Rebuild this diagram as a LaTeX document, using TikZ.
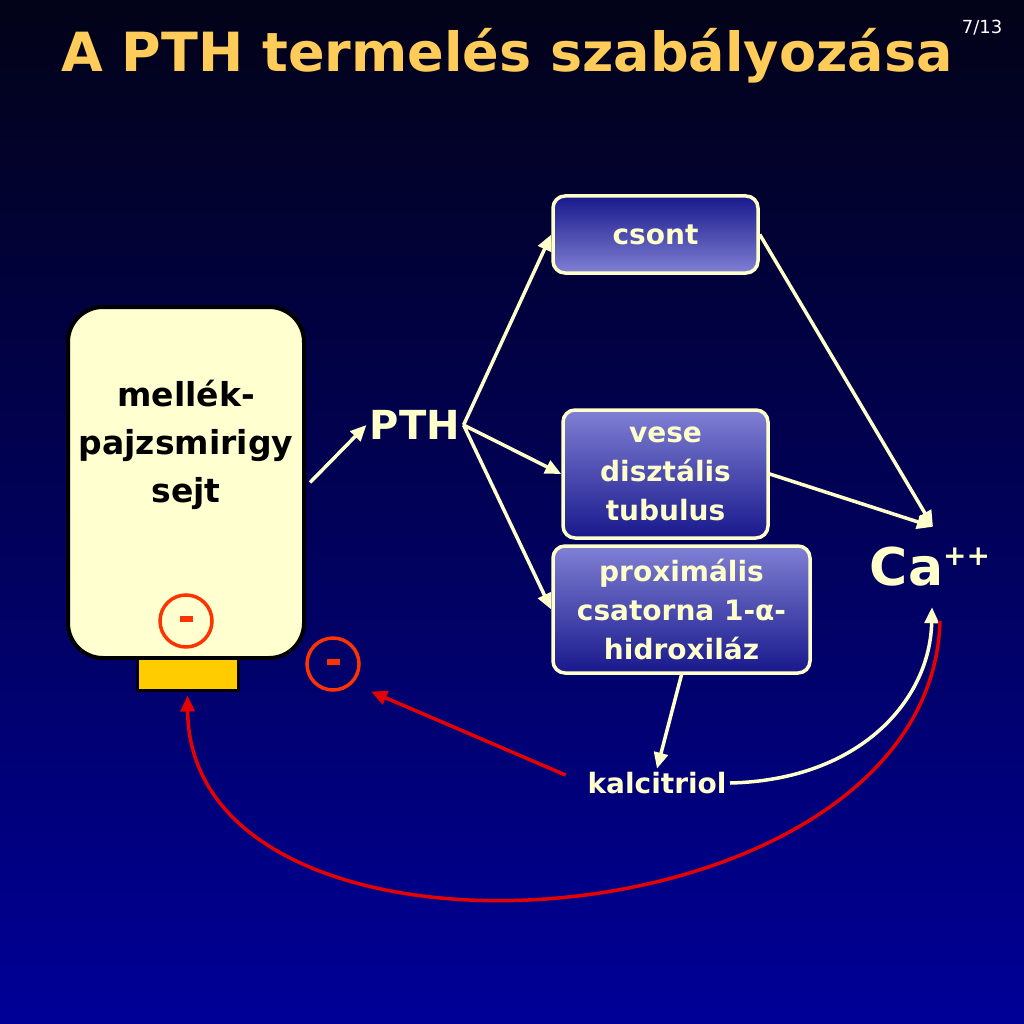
\documentclass[tikz,border=0pt]{standalone}
\usepackage{fontspec}
\setmainfont{DejaVu Sans}
\usetikzlibrary{arrows.meta, positioning}

\definecolor{cream}{RGB}{255,255,204}
\definecolor{titleorange}{RGB}{255,204,90}
\definecolor{cellyellow}{RGB}{255,255,208}
\definecolor{receptorgold}{RGB}{255,204,0}
\definecolor{minusred}{RGB}{255,51,0}
\definecolor{curvered}{RGB}{230,0,0}
\definecolor{bgtop}{RGB}{2,2,24}
\definecolor{bgmid}{RGB}{0,0,110}
\definecolor{bgbot}{RGB}{0,0,152}
\definecolor{boxlight}{RGB}{128,128,212}
\definecolor{boxdark}{RGB}{24,24,140}

\begin{document}
\begin{tikzpicture}[x=1pt, y=-1pt,
    organ/.style={rectangle, draw=cream, line width=3.5pt, rounded corners=12pt, text=cream, align=center, font=\fontsize{28}{39}\selectfont\bfseries, minimum width=205pt},
    label/.style={text=cream, font=\fontsize{28}{39}\selectfont\bfseries},
    minus/.style={circle, draw=minusred, line width=3.5pt, minimum size=52pt, inner sep=0pt},
    arrow/.style={-{Triangle[length=16pt, width=14pt]}, line width=3.5pt, draw=cream, fill=cream},
    inhibit/.style={-{Triangle[length=16pt, width=14pt]}, line width=3.5pt, draw=curvered}
]

% Background
\shade[top color=bgtop, middle color=bgmid, bottom color=bgbot] (0,0) rectangle (1024,1024);

% Title
\node[text=titleorange, font=\fontsize{54}{60}\selectfont\bfseries] (title) at (507,56) {A PTH termelés szabályozása};
\node[text=white, font=\fontsize{18}{20}\selectfont] (page) at (982,28) {7/13};

% Parathyroid cell
\node[rectangle, draw=black, line width=4pt, fill=cellyellow, rounded corners=35pt, minimum width=236pt, minimum height=351pt] (cell) at (186,482.5) {};
\node[align=center, font=\fontsize{33}{48}\selectfont\bfseries] (celltext) at (186,445) {mellék-\\pajzsmirigy\\sejt};
\node[rectangle, draw=black, line width=3pt, fill=receptorgold, minimum width=101pt, minimum height=32pt] (receptor) at (187.5,674) {};
\node[minus] (minus1) at (186,621) {\color{minusred}\rule[4pt]{13pt}{6pt}};
\node[minus] (minus2) at (333,664) {\color{minusred}\rule[4pt]{13pt}{6pt}};

% PTH
\node[text=cream, font=\fontsize{40}{44}\selectfont\bfseries] (pth) at (415,425) {PTH};

% Target organs
\node[organ, minimum height=77pt, top color=boxdark, bottom color=boxlight] (csont) at (655.5,234.5) {csont};
\node[organ, minimum height=128pt, top color=boxlight, bottom color=boxdark] (vese) at (665.5,474) {vese\\disztális\\tubulus};
\node[organ, minimum width=257pt, minimum height=127pt, top color=boxlight, bottom color=boxdark] (prox) at (681.5,609.5) {proximális\\csatorna 1-α-\\hidroxiláz};

% Calcium and calcitriol
\node[text=cream, font=\fontsize{52}{56}\selectfont\bfseries, minimum height=80pt, inner sep=0pt] (ca) at (930,567) {Ca\raisebox{20pt}{\fontsize{28}{30}\selectfont ++}};
\node[label] (kalc) at (657,783) {kalcitriol};

% Connections
\draw[arrow] ([xshift=4pt]cell.east) -- (pth.west);
\draw[arrow] (pth.east) -- (csont.west);
\draw[arrow] (pth.east) -- (vese.west);
\draw[arrow] (pth.east) -- (prox.west);
\draw[arrow] (csont.east) -- ([xshift=3pt]ca.north);
\draw[arrow] (vese.east) -- ([xshift=3pt]ca.north);
\draw[arrow] (prox.south) -- (kalc.north);
\draw[arrow, fill=none] (kalc.east) .. controls (860,780) and (930,700) .. ([xshift=2pt]ca.south);

% Negative feedback
\draw[inhibit, shorten <=20pt, shorten >=20pt] (kalc.west) -- (minus2.south east);
\draw[inhibit, shorten >=4pt] ([xshift=10pt,yshift=-14pt]ca.south) .. controls (930,950) and (190,1000) .. (receptor.south);

\end{tikzpicture}
\end{document}
